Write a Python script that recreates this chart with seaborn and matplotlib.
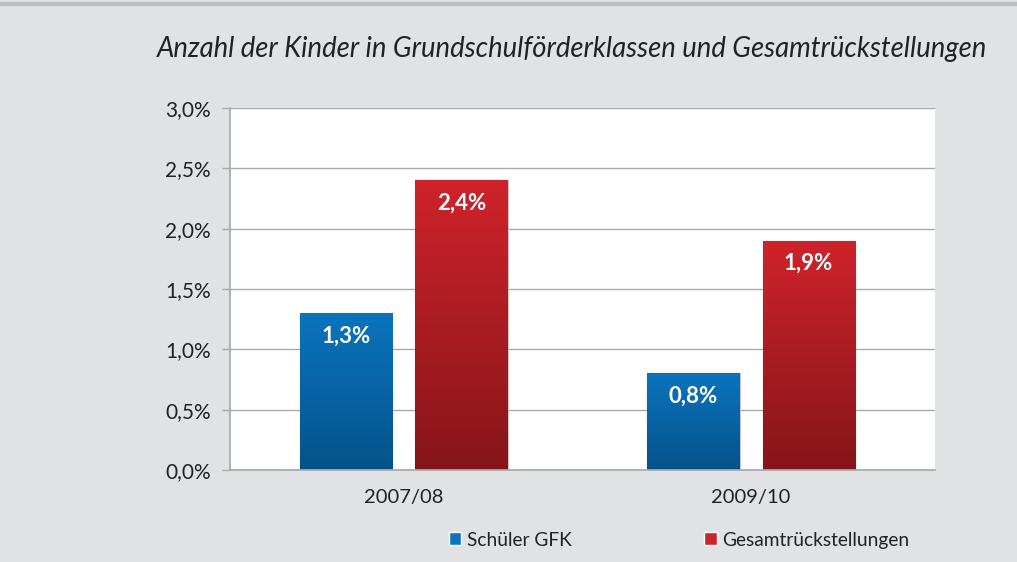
import numpy as np
import pandas as pd
import matplotlib
matplotlib.use("Agg")
import matplotlib.pyplot as plt
import matplotlib.ticker as mticker
from matplotlib.colors import LinearSegmentedColormap
from matplotlib.lines import Line2D
from matplotlib.patches import Patch
import seaborn as sns

# Daten (Prozent)
years = ["2007/08", "2009/10"]
series_names = ["Schüler GFK", "Gesamtrückstellungen"]
schueler_gfk = [1.3, 0.8]
rueckstellungen = [2.4, 1.9]

title = "Anzahl der Kinder in Grundschulförderklassen und Gesamtrückstellungen"

BG = "#E1E2E4"
GRID = "#A9AAAD"
BLUE_TOP, BLUE_BOT = "#0B74BD", "#05528A"
RED_TOP, RED_BOT = "#CF232B", "#85151A"

df = pd.DataFrame({
    "Jahr": years * 2,
    "Serie": [series_names[0]] * len(years) + [series_names[1]] * len(years),
    "Wert": schueler_gfk + rueckstellungen,
})

sns.set_theme(style="white")
plt.rcParams["font.family"] = ["Lato", "DejaVu Sans"]

fig = plt.figure(figsize=(10.17, 5.62), dpi=100, facecolor=BG)
ax = fig.add_axes([0.2262, 0.1637, 0.9194 - 0.2262, 0.8078 - 0.1637])
ax.set_facecolor("white")

sns.barplot(data=df, x="Jahr", y="Wert", hue="Serie", order=years,
            hue_order=series_names, palette=[BLUE_TOP, RED_TOP],
            width=0.663, gap=0.20, ax=ax, legend=False,
            edgecolor="#C8C8CC", linewidth=1.0, errorbar=None)

# Verlauf in die Balken legen
cmaps = [
    LinearSegmentedColormap.from_list("b", [BLUE_BOT, BLUE_TOP]),
    LinearSegmentedColormap.from_list("r", [RED_BOT, RED_TOP]),
]
grad = np.linspace(0, 1, 256).reshape(-1, 1)
for i, patch in enumerate(list(ax.patches)):
    x0, w, h = patch.get_x(), patch.get_width(), patch.get_height()
    cmap = cmaps[0] if i < len(years) else cmaps[1]
    im = ax.imshow(grad, cmap=cmap, origin="lower", aspect="auto",
                   extent=[x0, x0 + w, 0, h], zorder=patch.get_zorder() + 0.1)
    im.set_clip_path(patch)
    lbl = f"{h:.1f}%".replace(".", ",")
    ax.text(x0 + w / 2, h - 0.19, lbl, ha="center", va="center",
            color="white", fontsize=16, fontweight="bold",
            zorder=patch.get_zorder() + 1)

ax.set_xlim(-0.501, 1.53)
ax.set_ylim(0, 3.0)

ax.yaxis.set_major_locator(mticker.MultipleLocator(0.5))
ax.yaxis.set_major_formatter(
    mticker.FuncFormatter(lambda v, _: f"{v:.1f}%".replace(".", ",")))
ax.grid(axis="y", color=GRID, linewidth=1.0)
ax.set_axisbelow(True)

for s in ["top", "right"]:
    ax.spines[s].set_visible(False)
ax.spines["left"].set_color(GRID)
ax.spines["bottom"].set_color(GRID)
ax.tick_params(axis="y", which="major", left=True, length=6, width=1,
               color=GRID, labelsize=15, labelcolor="#222222", pad=8)
ax.tick_params(axis="x", length=0, labelsize=14.5, labelcolor="#222222", pad=14)
ax.set_xlabel("")
ax.set_ylabel("")

fig.text(0.5627, 0.912, title, ha="center", va="center", fontsize=19.8,
         style="italic", color="#222222", family=["Lato", "DejaVu Sans"])

# graue Linie oben
fig.add_artist(Line2D([0, 1], [0.992, 0.992], transform=fig.transFigure,
                      color="#BDBEC0", linewidth=3))

handles = [Patch(facecolor=BLUE_TOP), Patch(facecolor=RED_TOP)]
fig.legend(handles, series_names, loc="center", bbox_to_anchor=(0.668, 0.039),
           ncol=2, frameon=False, fontsize=13.8, handlelength=0.65,
           handleheight=0.65, handletextpad=0.3, columnspacing=6.9,
           labelcolor="#222222")

fig.savefig("out.png", dpi=100, facecolor=BG)
